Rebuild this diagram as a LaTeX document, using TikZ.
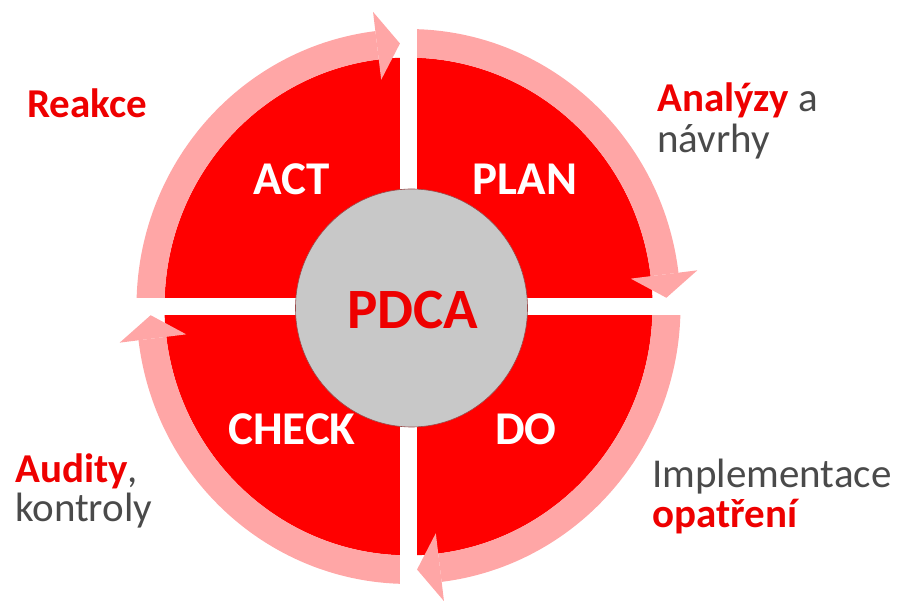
\documentclass[tikz,border=0pt]{standalone}
\usepackage{fontspec}
\setmainfont{Carlito}
\definecolor{pdred}{HTML}{FF0000}
\definecolor{pdpink}{HTML}{FFA6A6}
\definecolor{txtred}{HTML}{EE0000}
\definecolor{txtgray}{HTML}{4A4A4A}
\definecolor{pdgray}{HTML}{C8C8C8}
\definecolor{pdedge}{HTML}{9A4A4A}
\begin{document}
\begin{tikzpicture}[x=1pt,y=1pt,
  ring/.style={fill=pdpink},
  head/.style={fill=pdpink},
  gapstrip/.style={fill=white},
  quad/.style={font=\fontsize{47}{50}\selectfont\bfseries, text=white, anchor=base, inner sep=0pt},
  side/.style={font=\fontsize{41}{44}\selectfont, anchor=base west, inner sep=0pt, text=txtgray},
]
\useasboundingbox (0,0) rectangle (897,601);
\begin{scope}[shift={(408.5,294.5)}, yscale=1.02]
  \fill[pdred] (0,0) circle[radius=244];
  \foreach \e in {90,0,-90,-180} {
    \fill[ring] (\e+7:244) -- (\e+7:272) arc[start angle=\e+7, end angle=\e+90, radius=272] -- (\e+90:244) arc[start angle=\e+90, end angle=\e+7, radius=244] -- cycle;
  }
\end{scope}
\fill[gapstrip] (400,0) rectangle (417,601);
\fill[gapstrip] (100,286) rectangle (720,303);
\begin{scope}[shift={(408.5,294.5)}, yscale=1.02]
  \foreach \e in {90,0,-90,-180} {
    \fill[head] (\e+7:224) -- (\e+7:291) -- (\e+1.9:258) -- cycle;
  }
\end{scope}
\filldraw[fill=pdgray, draw=pdedge, line width=0.6pt] (411.5,293) ellipse[x radius=116, y radius=119];
\node[quad] (act) at (292,406) {ACT};
\node[quad] (plan) at (525,406) {PLAN};
\node[quad] (check) at (292,156) {CHECK};
\node[quad] (do) at (526,156) {DO};
\node[font=\fontsize{57}{60}\selectfont\bfseries, text=txtred, anchor=base, inner sep=0pt] (pdca) at (413,272) {PDCA};
\node[side, text=txtred, font=\fontsize{41}{44}\selectfont\bfseries] (reakce) at (27,483) {Reakce};
\node[side] (analyzy) at (657,489) {\textcolor{txtred}{\bfseries Analýzy} a};
\node[side] (navrhy) at (657,448) {návrhy};
\node[side] (impl) at (652,113) {Implementace};
\node[side] (opatreni) at (652,73) {\textcolor{txtred}{\bfseries opatření}};
\node[side] (audity) at (15,118) {\textcolor{txtred}{\bfseries Audity},};
\node[side] (kontroly) at (15,79) {kontroly};
\end{tikzpicture}
\end{document}
